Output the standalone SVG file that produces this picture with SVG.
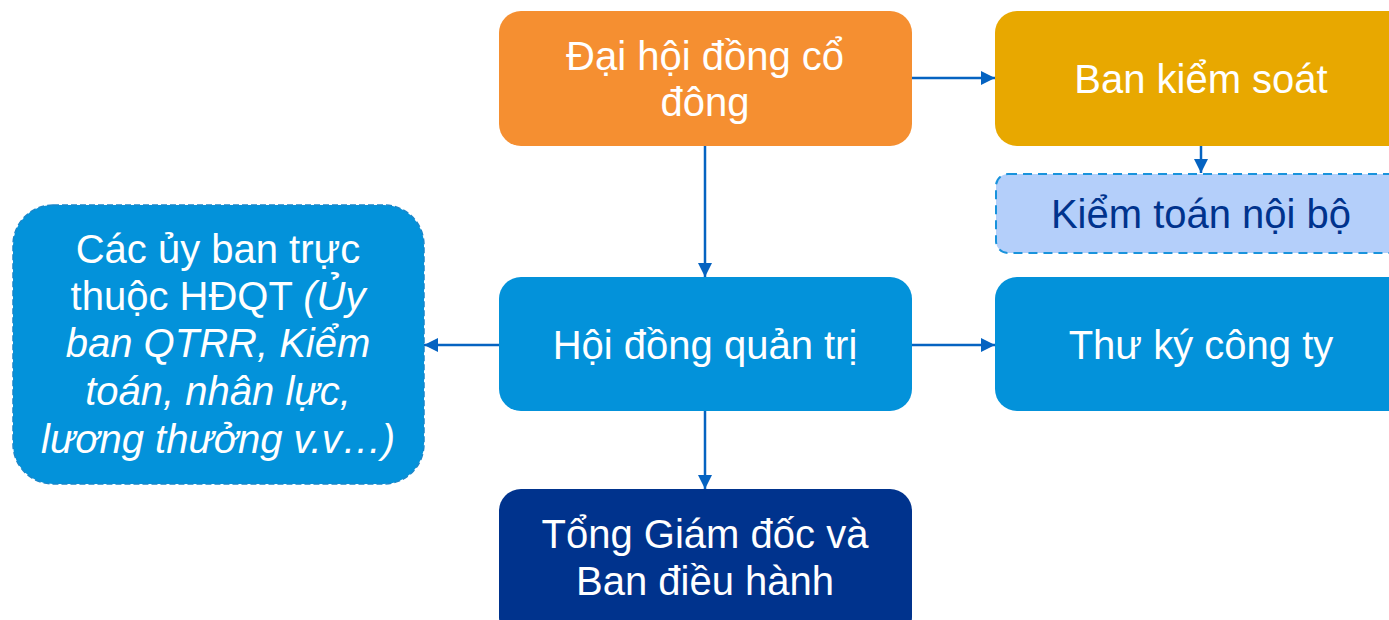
<svg xmlns="http://www.w3.org/2000/svg" width="1389" height="620" viewBox="0 0 1389 620">
<defs>
<marker id="arr" viewBox="0 0 10 10" refX="10" refY="5" markerWidth="15" markerHeight="14" markerUnits="userSpaceOnUse" orient="auto">
<path d="M0,0 L10,5 L0,10 z" fill="#0563C1"/>
</marker>
<style>
.t{font-family:"Liberation Sans",Arial,sans-serif;font-size:40px;fill:#ffffff;text-anchor:middle}
.d{fill:#00338D}
.i{font-style:italic}
.c{stroke:#0563C1;stroke-width:2.5;fill:none;marker-end:url(#arr)}
</style>
</defs>
<rect width="1389" height="620" fill="#ffffff"/>
<g id="connectors">
<line class="c" x1="912" y1="78" x2="995" y2="78"/>
<line class="c" x1="705" y1="146" x2="705" y2="277"/>
<line class="c" x1="1201" y1="146" x2="1201" y2="173"/>
<line class="c" x1="499" y1="345" x2="424" y2="345"/>
<line class="c" x1="912" y1="345" x2="995" y2="345"/>
<line class="c" x1="705" y1="411" x2="705" y2="489"/>
</g>
<g id="dhdcd">
<rect x="499" y="11" width="413" height="135" rx="22" fill="#F58F31"/>
<text class="t" x="705" y="70">Đại hội đồng cổ</text>
<text class="t" x="705" y="116">đông</text>
</g>
<g id="bks">
<rect x="995" y="11" width="420" height="135" rx="22" fill="#E8A800"/>
<text class="t" x="1201" y="93">Ban kiểm soát</text>
</g>
<g id="ktnb">
<rect x="996" y="174" width="420" height="79" rx="12" fill="#B4CFFA" stroke="#1993DC" stroke-width="2" stroke-dasharray="9,6"/>
<text class="t d" x="1201" y="228">Kiểm toán nội bộ</text>
</g>
<g id="hdqt">
<rect x="499" y="277" width="413" height="134" rx="22" fill="#0392DA"/>
<text class="t" x="705" y="359">Hội đồng quản trị</text>
</g>
<g id="tk">
<rect x="995" y="277" width="420" height="134" rx="22" fill="#0392DA"/>
<text class="t" x="1201" y="359">Thư ký công ty</text>
</g>
<g id="uyban">
<rect x="13" y="205" width="411" height="279" rx="40" fill="#0392DA" stroke="#1A86C9" stroke-width="1.5" stroke-dasharray="6,3"/>
<text class="t" x="218" y="263">Các ủy ban trực</text>
<text class="t" x="218" y="310">thuộc HĐQT <tspan class="i">(Ủy</tspan></text>
<text class="t i" x="218" y="357">ban QTRR, Kiểm</text>
<text class="t i" x="218" y="405">toán, nhân lực,</text>
<text class="t i" x="218" y="453">lương thưởng v.v…)</text>
</g>
<g id="tgd">
<rect x="499" y="489" width="413" height="150" rx="22" fill="#00338D"/>
<text class="t" x="705" y="548">Tổng Giám đốc và</text>
<text class="t" x="705" y="595">Ban điều hành</text>
</g>
</svg>
